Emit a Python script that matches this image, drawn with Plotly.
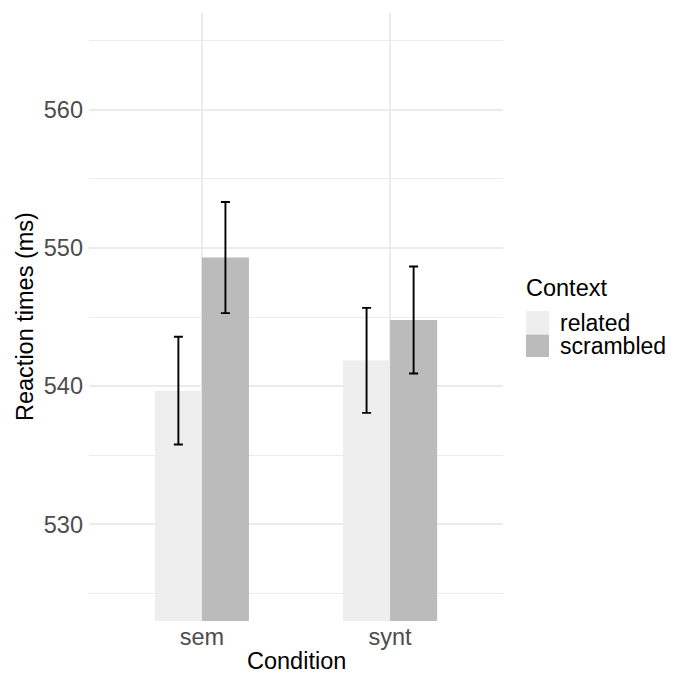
import plotly.graph_objects as go

conditions = ["sem", "synt"]
contexts = ["related", "scrambled"]
related_rt = [539.67, 541.86]
related_err = [3.9, 3.8]
scrambled_rt = [549.30, 544.78]
scrambled_err = [4.02, 3.87]
fill_colors = {"related": "#EEEEEE", "scrambled": "#BBBBBB"}

OFF = 8  # page body margin
W, H = 674 - OFF, 673 - OFF
# panel edges in screenshot pixels
PX0, PX1, PY0, PY1 = 89, 503, 13, 621
L, R = PX0 - OFF, W - (PX1 - OFF)
T, B = PY0 - OFF, H - (PY1 - OFF)
FONT = "Liberation Sans"
FS = 23.5

fig = go.Figure()
for ctx, vals, errs in [("related", related_rt, related_err),
                        ("scrambled", scrambled_rt, scrambled_err)]:
    fig.add_trace(go.Bar(
        x=conditions, y=vals, name=ctx, base=0,
        marker=dict(color=fill_colors[ctx], line=dict(width=0)),
        error_y=dict(type="data", array=errs, visible=True,
                     color="black", thickness=1.9, width=4.5),
        showlegend=False,
    ))

def px(xp):
    return (xp - PX0) / (PX1 - PX0)
def py(yp):
    return (PY1 - yp) / (PY1 - PY0)

# manual legend
keys = [("related", 311, 334), ("scrambled", 334.5, 357)]
for ctx, y0, y1 in keys:
    fig.add_shape(type="rect", xref="paper", yref="paper",
                  x0=px(526), x1=px(549), y0=py(y1), y1=py(y0),
                  fillcolor=fill_colors[ctx], line=dict(width=0))
    fig.add_annotation(xref="paper", yref="paper", x=px(559), y=py((y0 + y1) / 2),
                       text=ctx, showarrow=False, xanchor="left", yanchor="middle",
                       borderpad=0, height=22, valign="middle",
                       font=dict(family=FONT, size=23, color="black"))
fig.add_annotation(xref="paper", yref="paper", x=px(524), y=py(288),
                   text="Context", showarrow=False, xanchor="left", yanchor="middle",
                   font=dict(family=FONT, size=FS, color="black"))

# axis titles
fig.add_annotation(xref="paper", yref="paper", x=0.5, y=py(660.5),
                   text="Condition", showarrow=False, xanchor="center", yanchor="middle",
                   borderpad=0,
                   font=dict(family=FONT, size=FS, color="black"))
fig.add_annotation(xref="paper", yref="paper", x=px(25), y=0.5, textangle=-90,
                   text="Reaction times (ms)", showarrow=False, xanchor="center", yanchor="middle",
                   font=dict(family=FONT, size=FS, color="black"))

fig.update_layout(
    width=W, height=H,
    margin=dict(l=L, r=R, t=T, b=B, autoexpand=False),
    paper_bgcolor="white", plot_bgcolor="white",
    barmode="group", bargap=0.5, bargroupgap=0,
    font=dict(family=FONT, size=FS, color="#4D4D4D"),
    xaxis=dict(range=[-0.6, 1.6], showgrid=True, gridcolor="#EBEBEB", gridwidth=1.6,
               zeroline=False, showline=False, ticks="", tickfont=dict(color="#4D4D4D", size=FS),
               ticklabelstandoff=-1),
    yaxis=dict(range=[523, 567], tickvals=[530, 540, 550, 560], showgrid=True,
               gridcolor="#EBEBEB", gridwidth=1.6, zeroline=False, showline=False,
               ticks="", tickfont=dict(color="#4D4D4D", size=FS), ticklabelstandoff=5,
               minor=dict(tickvals=[525, 535, 545, 555, 565], showgrid=True,
                          gridcolor="#EBEBEB", gridwidth=0.9)),
)

fig.write_html("out.html")
